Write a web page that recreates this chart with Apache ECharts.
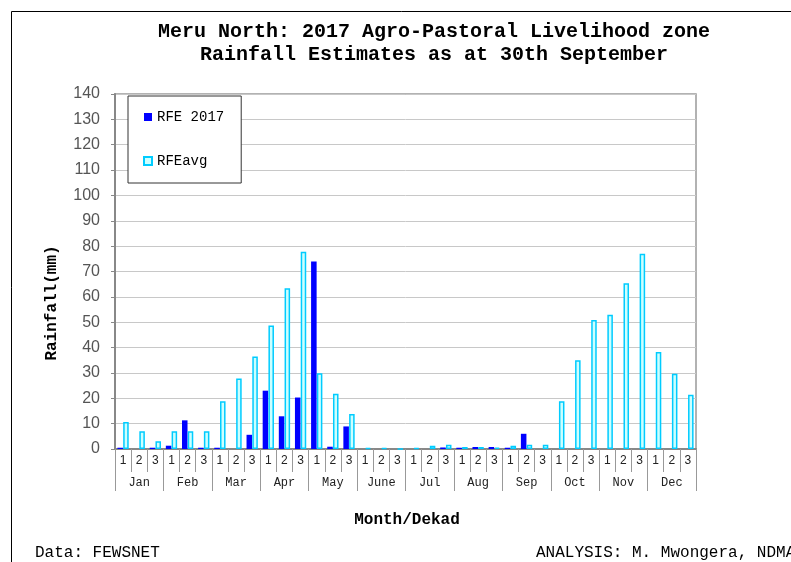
<!DOCTYPE html>
<html>
<head>
<meta charset="utf-8">
<script src="https://cdn.jsdelivr.net/npm/echarts@6/dist/echarts.min.js"></script>
<style>
html,body{margin:0;padding:0;background:#fff;}
#chart{width:791px;height:562px;}
</style>
</head>
<body>
<div id="chart"></div>
<script>
var dekads = ['1','2','3','1','2','3','1','2','3','1','2','3','1','2','3','1','2','3','1','2','3','1','2','3','1','2','3','1','2','3','1','2','3','1','2','3'];
var months = ['Jan','Feb','Mar','Apr','May','June','Jul','Aug','Sep','Oct','Nov','Dec'];
var rfe2017 = [0.5,0,0.5, 1.3,11.3,0.5, 0.5,0,5.6, 23.0,12.9,20.3, 73.9,0.9,8.9, 0,0,0, 0,0,0.6, 0.5,0.8,0.8, 0.5,6.0,0, null,null,null, null,null,null, null,null,null];
var rfeAvg = [10.6,7.0,3.1, 7.0,7.0,7.0, 18.8,27.8,36.5, 48.7,63.4,77.8, 29.9,21.8,13.8, 0.3,0.3,0, 0.3,1.3,1.7, 0.8,0.8,0.5, 1.3,1.7,1.7, 18.8,35.0,50.9, 52.9,65.4,77.0, 38.3,29.7,21.4];
var titleLines = ['Meru North: 2017 Agro-Pastoral Livelihood zone','Rainfall Estimates as at 30th September'];

var mono = "'Liberation Mono','DejaVu Sans Mono',monospace";
var sans = "'Liberation Sans',Arial,sans-serif";
var chart = echarts.init(document.getElementById('chart'), null, {renderer:'canvas'});
chart.setOption({
  animation:false,
  backgroundColor:'#ffffff',
  grid:{left:115,right:95,top:94,bottom:113,show:true,borderColor:'#999',borderWidth:1.5,backgroundColor:'transparent'},
  legend:{
    left:128, top:96, orient:'vertical', icon:'rect',
    itemWidth:8, itemHeight:8, itemGap:30,
    padding:[14,17,15,15],
    borderColor:'#333', borderWidth:1, backgroundColor:'#fff',
    textStyle:{fontFamily:mono, fontSize:14, color:'#000'},
    data:['RFE 2017','RFEavg']
  },
  xAxis:[{
    type:'category', data:dekads, position:'bottom',
    axisLine:{show:true,lineStyle:{color:'#888',width:2}},
    axisTick:{show:true,interval:0,length:23,lineStyle:{color:'#999',width:1}},
    axisLabel:{interval:0,margin:6,fontFamily:sans,fontSize:12,color:'#222'},
    splitLine:{show:false}
  },{
    type:'category', data:months, position:'bottom',
    axisLine:{show:false},
    axisTick:{show:true,interval:0,length:42,lineStyle:{color:'#999',width:1}},
    axisLabel:{interval:0,margin:28,fontFamily:mono,fontSize:12,color:'#222'},
    splitLine:{show:false}
  }],
  yAxis:{
    type:'value', min:0, max:140, interval:10,
    axisLine:{show:true,lineStyle:{color:'#888',width:2}},
    axisTick:{show:true,length:4,lineStyle:{color:'#888'}},
    axisLabel:{margin:15,fontFamily:sans,fontSize:16,color:'#555'},
    splitLine:{show:true,lineStyle:{color:'#c8c8c8',width:1}}
  },
  series:[{
    name:'RFE 2017', type:'bar', xAxisIndex:0, data:rfe2017,
    barGap:'4%', barCategoryGap:'30%',
    itemStyle:{color:'#0000ff'}
  },{
    name:'RFEavg', type:'bar', xAxisIndex:0, data:rfeAvg,
    itemStyle:{color:'#ccffff',borderColor:'#00ccff',borderWidth:1.5}
  }],
  graphic:[
    {type:'rect',shape:{x:11.5,y:11.5,width:820,height:620},style:{fill:'none',stroke:'#000',lineWidth:1},silent:true},
    {type:'text',x:434,y:32,style:{text:titleLines[0],font:"bold 20px "+mono,fill:'#000',textAlign:'center',textVerticalAlign:'middle'}},
    {type:'text',x:434,y:55,style:{text:titleLines[1],font:"bold 20px "+mono,fill:'#000',textAlign:'center',textVerticalAlign:'middle'}},
    {type:'text',x:407,y:520,style:{text:'Month/Dekad',font:"bold 16px "+mono,fill:'#000',textAlign:'center',textVerticalAlign:'middle'}},
    {type:'text',x:52,y:303,rotation:Math.PI/2,style:{text:'Rainfall(mm)',font:"bold 16px "+mono,fill:'#000',textAlign:'center',textVerticalAlign:'middle'}},
    {type:'text',x:35,y:553,style:{text:'Data: FEWSNET',font:"16px "+mono,fill:'#000',textAlign:'left',textVerticalAlign:'middle'}},
    {type:'text',x:536,y:553,style:{text:'ANALYSIS: M. Mwongera, NDMA',font:"16px "+mono,fill:'#000',textAlign:'left',textVerticalAlign:'middle'}}
  ]
});
</script>
</body>
</html>
